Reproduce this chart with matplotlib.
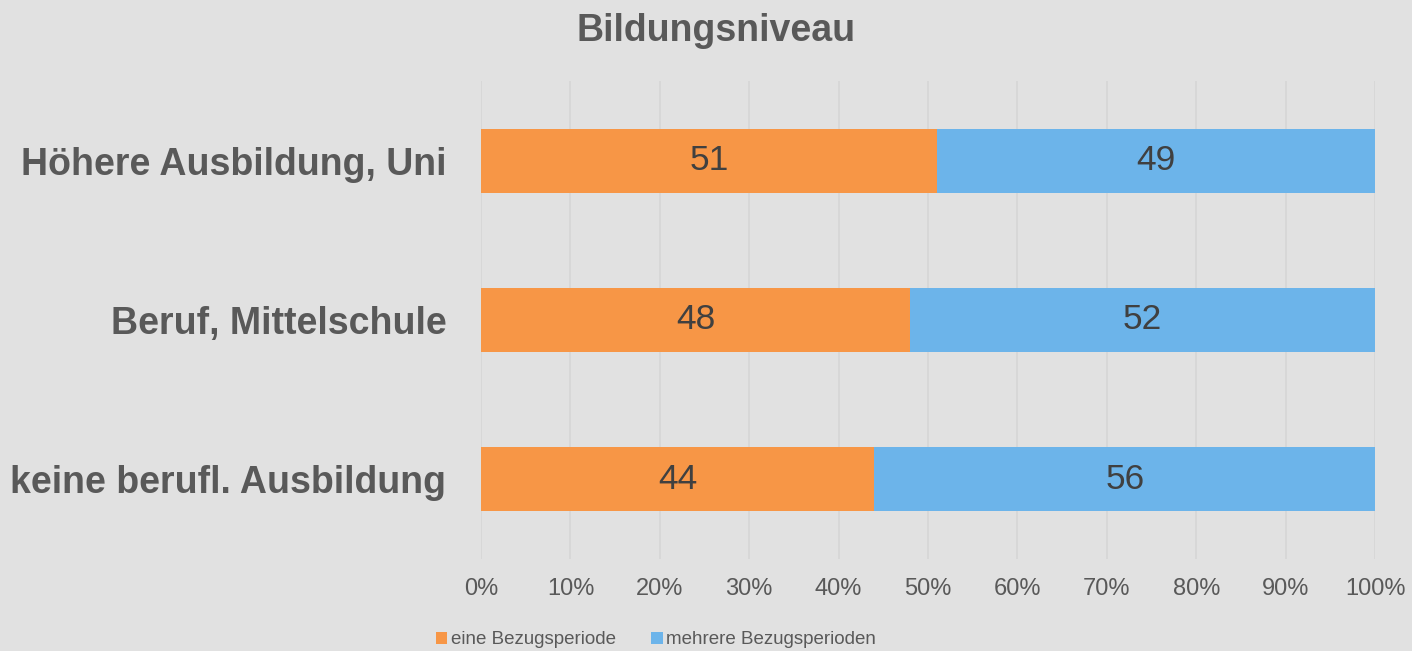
import matplotlib
matplotlib.use("Agg")
import matplotlib.pyplot as plt
import numpy as np
from matplotlib.ticker import PercentFormatter

plt.rcParams['font.family'] = ['Liberation Sans', 'DejaVu Sans']

categories = ['keine berufl. Ausbildung', 'Beruf, Mittelschule', 'Höhere Ausbildung, Uni']
eine = [44, 48, 51]
mehrere = [56, 52, 49]
series_names = ['eine Bezugsperiode', 'mehrere Bezugsperioden']

bg = '#e1e1e1'
c_orange = '#f79646'
c_blue = '#6cb4ea'
txt = '#595959'

fig = plt.figure(figsize=(14.12, 6.51), dpi=100, facecolor=bg)
ax = fig.add_axes([0.3407, 0.1413, 0.6331, 0.7343], facecolor=bg)

y = np.arange(len(categories))
b1 = ax.barh(y, eine, height=0.4, color=c_orange, label=series_names[0], zorder=3)
b2 = ax.barh(y, mehrere, left=eine, height=0.4, color=c_blue, label=series_names[1], zorder=3)

for bars, vals, lefts in [(b1, eine, [0] * 3), (b2, mehrere, eine)]:
    for yi, v, l in zip(y, vals, lefts):
        ax.text(l + v / 2, yi, str(v), ha='center', va='center',
                fontsize=25.5, color='#404040', zorder=4)

ax.set_xlim(0, 100)
ax.set_ylim(-0.5, 2.5)
ax.set_xticks(np.arange(0, 101, 10))
ax.xaxis.set_major_formatter(PercentFormatter(decimals=0))
ax.set_yticks(y)
ax.set_yticklabels(categories, fontsize=27, fontweight='bold', color=txt)
ax.tick_params(axis='x', labelsize=17, colors=txt, length=0, pad=13.5)
ax.tick_params(axis='y', length=0, pad=25)
ax.grid(axis='x', color='#d6d6d6', linewidth=1.3, zorder=0)
for s in ax.spines.values():
    s.set_visible(False)

fig.suptitle('Bildungsniveau', x=0.507, y=0.98, fontsize=27, fontweight='bold', color=txt, va='top')

leg = fig.legend(handles=[b1, b2], labels=series_names, loc='lower center',
                 bbox_to_anchor=(0.4646, -0.022), ncol=2, frameon=False,
                 fontsize=13.5, handlelength=0.6, handleheight=0.6,
                 handletextpad=0.2, columnspacing=1.9, labelcolor=txt)

fig.savefig('out.png', dpi=100, facecolor=bg)
